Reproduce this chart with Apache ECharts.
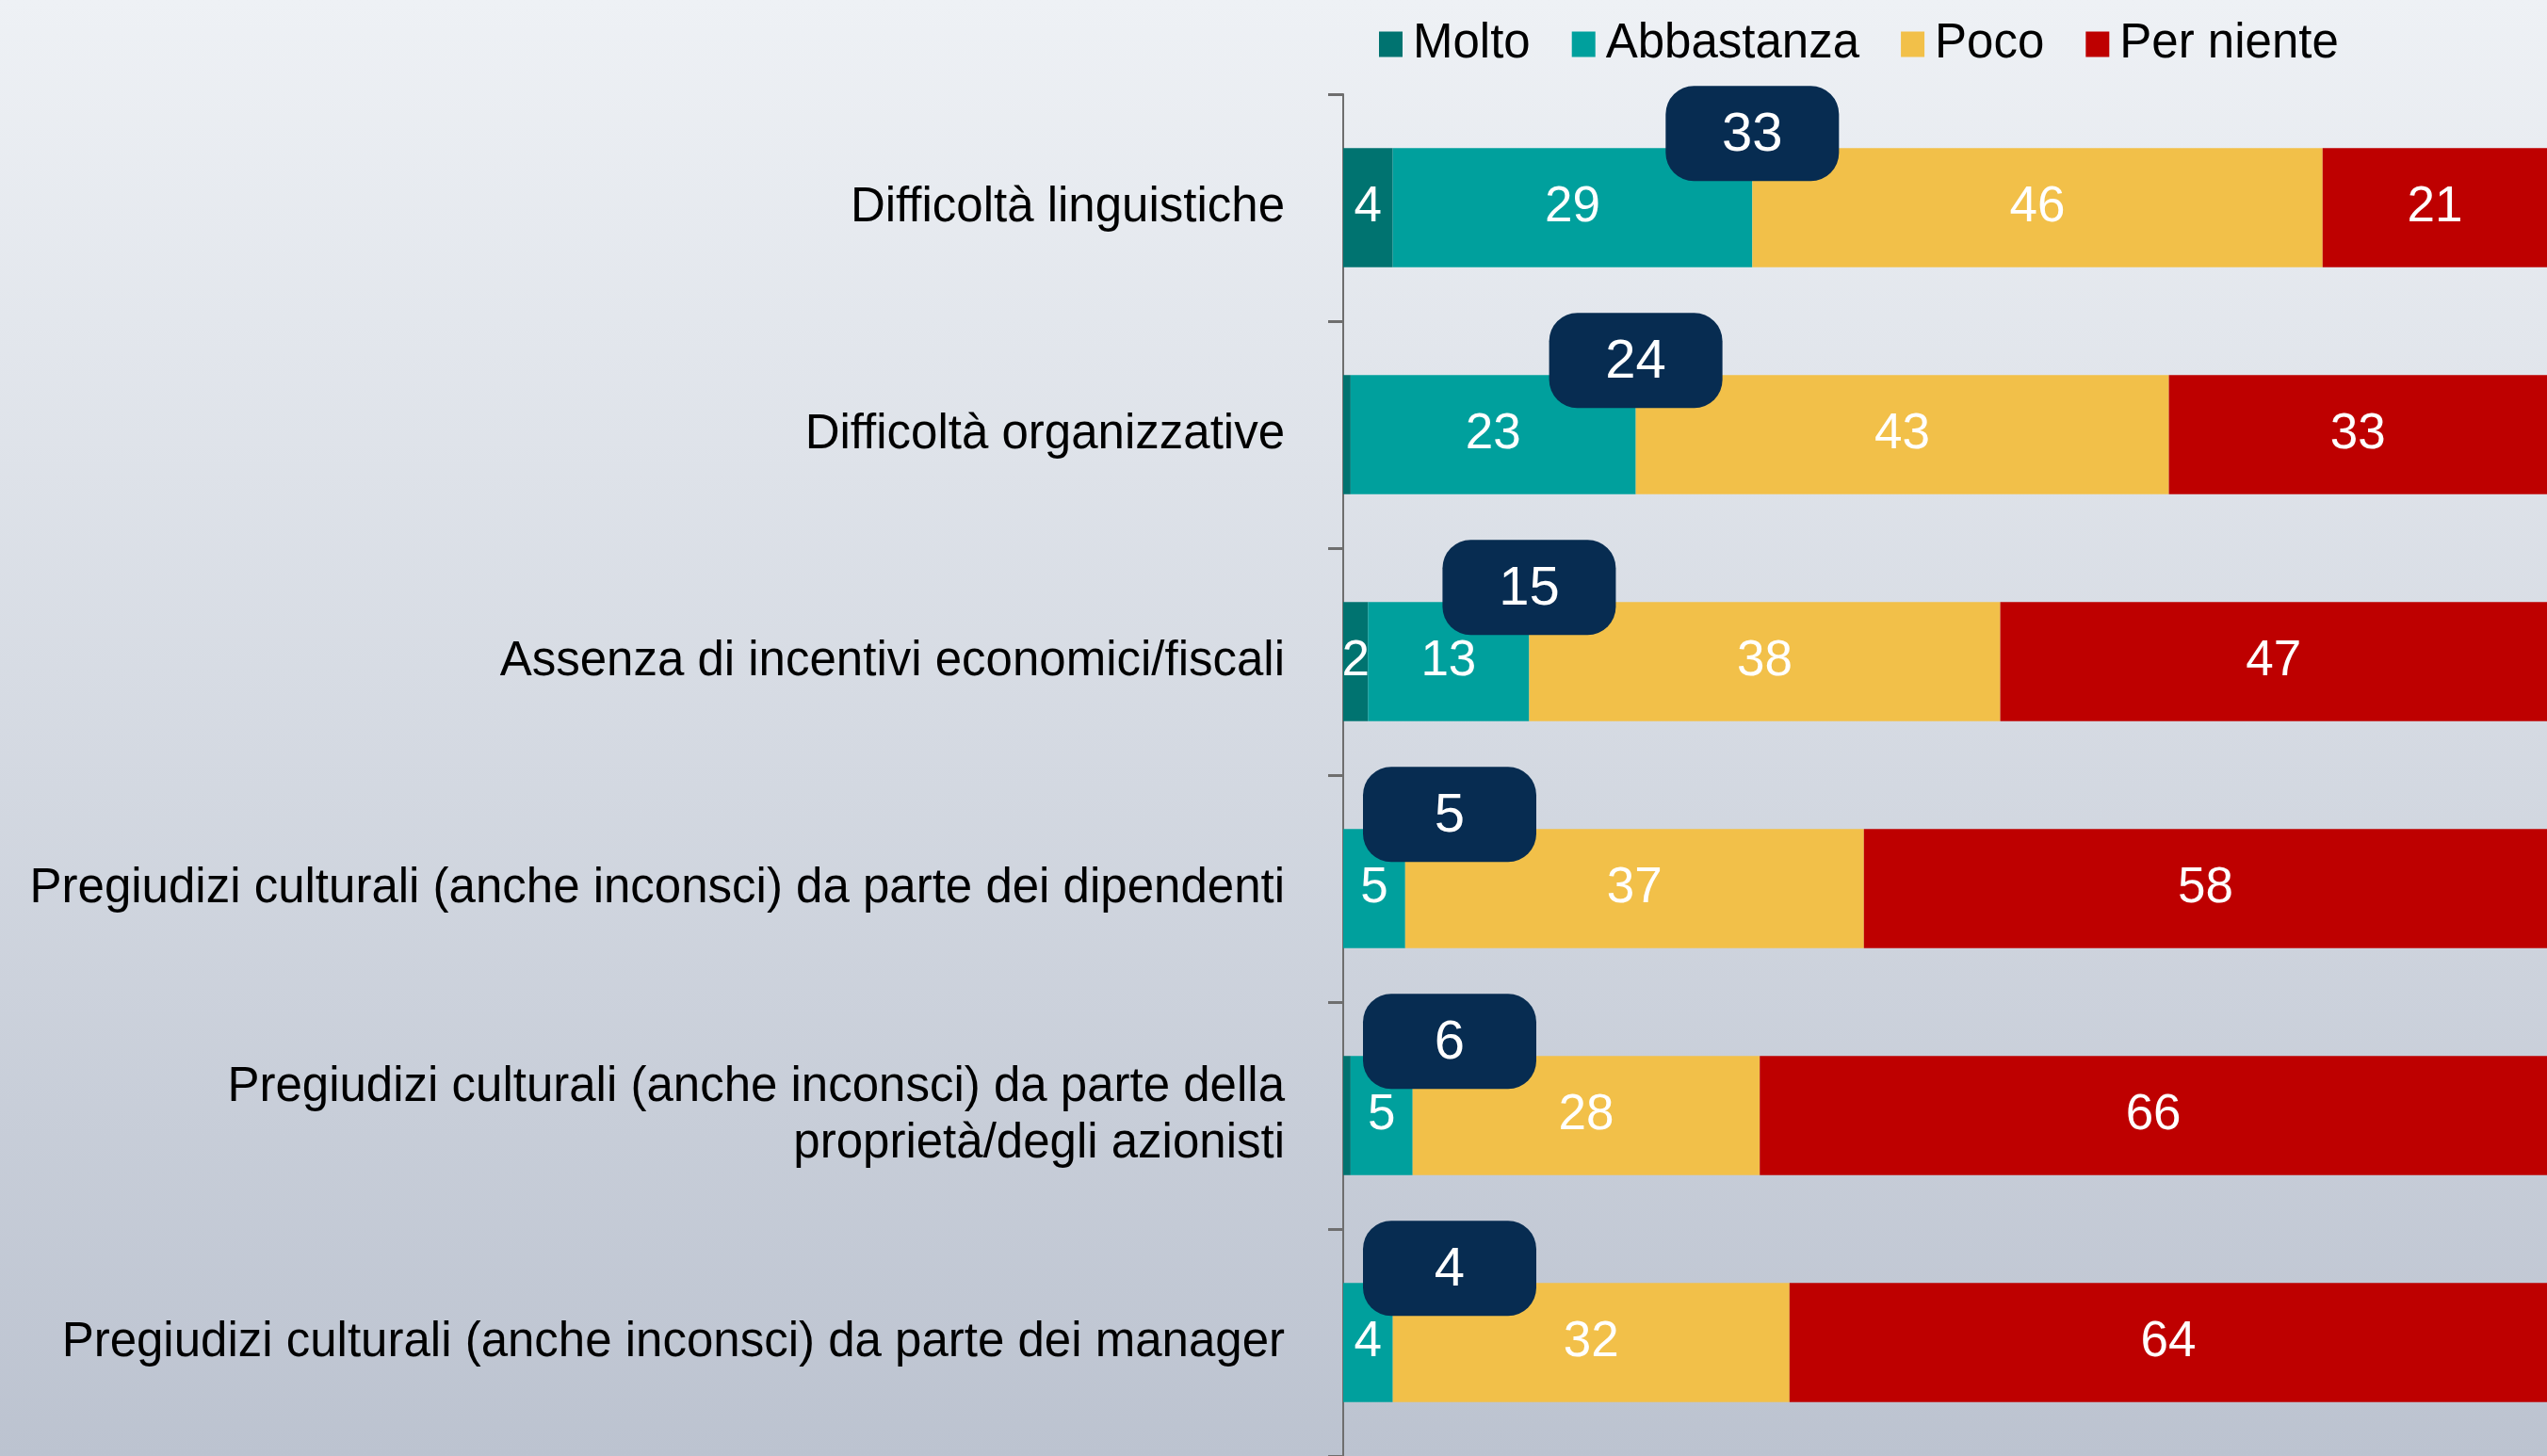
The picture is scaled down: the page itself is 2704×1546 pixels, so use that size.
<!DOCTYPE html>
<html>
<head>
<meta charset="utf-8">
<script src="https://cdn.jsdelivr.net/npm/echarts@6/dist/echarts.min.js"></script>
<style>
html, body { margin: 0; padding: 0; }
body { background: linear-gradient(to bottom, #eef1f5 0%, #bcc3d0 100%); }
#chart { width: 2704px; height: 1546px; }
</style>
</head>
<body>
<div id="chart"></div>
<script>
const categories = [
  'Difficoltà linguistiche',
  'Difficoltà organizzative',
  'Assenza di incentivi economici/fiscali',
  'Pregiudizi culturali (anche inconsci) da parte dei dipendenti',
  'Pregiudizi culturali (anche inconsci) da parte della\nproprietà/degli azionisti',
  'Pregiudizi culturali (anche inconsci) da parte dei manager'
];
const seriesNames = ['Molto', 'Abbastanza', 'Poco', 'Per niente'];
const molto      = [4, 0.6, 2, 0, 0.6, 0];
const abbastanza = [29, 23, 13, 5, 5, 4];
const poco       = [46, 43, 38, 37, 28, 32];
const perNiente  = [21, 33, 47, 58, 66, 64];
// visible part of the 0–100 scale (the reference is cropped at the right edge)
const axisMax = 97.1;

const FONT = "'Liberation Sans', Arial, sans-serif";
const colors = ['#007370', '#00a09d', '#f2c049', '#be0000'];
const values = [molto, abbastanza, poco, perNiente];

const totals = molto.map((m, i) => m + abbastanza[i]);

const chart = echarts.init(document.getElementById('chart'), null, { renderer: 'canvas' });

const barSeries = seriesNames.map((name, k) => ({
  name: name,
  type: 'bar',
  stack: 'total',
  barWidth: '52.5%',
  itemStyle: { color: colors[k] },
  label: {
    show: true,
    position: 'inside',
    color: '#ffffff',
    fontSize: 53,
    fontFamily: FONT,
    formatter: p => (p.value >= 1 ? String(Math.round(p.value)) : '')
  },
  emphasis: { disabled: true },
  data: values[k]
}));

const bubbleSeries = {
  type: 'custom',
  name: 'bubble',
  z: 10,
  clip: false,
  encode: { x: 0, y: 1 },
  data: totals.map((t, i) => [t, i, Math.round(t)]),
  renderItem: function (params, api) {
    const idx = api.value(1);
    const pt = api.coord([api.value(0), idx]);
    const origin = api.coord([0, idx])[0];
    const band = api.size([0, 1])[1];
    const w = 184, h = 101;
    const cx = Math.max(pt[0], origin + 21 + w / 2);
    const cy = pt[1] - band * 0.327;
    return {
      type: 'group',
      children: [
        { type: 'rect', shape: { x: cx - w / 2, y: cy - h / 2, width: w, height: h, r: 30 },
          style: { fill: '#072c51' } },
        { type: 'text', style: { text: String(api.value(2)), x: cx, y: cy + 2, align: 'center',
          verticalAlign: 'middle', fill: '#ffffff', fontSize: 58, fontFamily: FONT } }
      ]
    };
  }
};

chart.setOption({
  backgroundColor: 'transparent',
  animation: false,
  textStyle: { fontFamily: FONT },
  legend: {
    data: seriesNames,
    top: 18,
    left: 1464,
    padding: 0,
    icon: 'rect',
    itemWidth: 25,
    itemHeight: 27,
    itemGap: 44,
    textStyle: { fontSize: 51, color: '#000000', fontFamily: FONT, padding: [0, 0, 0, 6], lineHeight: 58 }
  },
  grid: { left: 1426, top: 100, right: 0, bottom: -6, containLabel: false },
  xAxis: { type: 'value', min: 0, max: axisMax, show: false },
  yAxis: {
    type: 'category',
    inverse: true,
    data: categories,
    axisLine: { show: true, lineStyle: { color: '#6e6e6e', width: 2 } },
    axisTick: { show: true, length: 16, lineStyle: { color: '#6e6e6e', width: 3 } },
    axisLabel: { color: '#000000', fontSize: 51, fontFamily: FONT, margin: 62, lineHeight: 60, align: 'right' }
  },
  series: [...barSeries, bubbleSeries]
});
</script>
</body>
</html>
